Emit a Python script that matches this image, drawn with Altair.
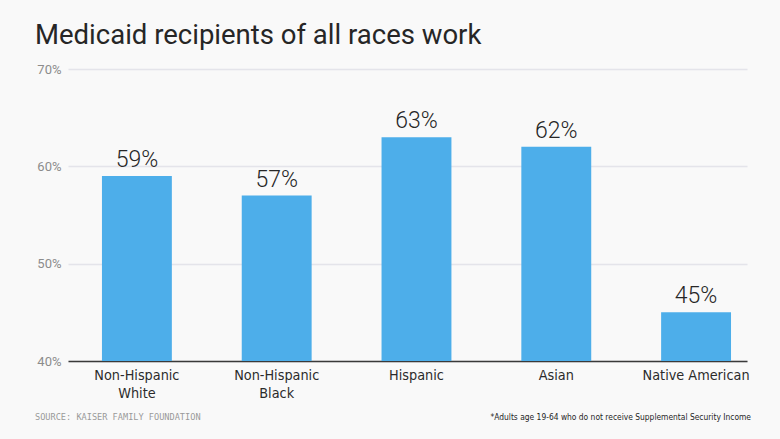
import altair as alt
import pandas as pd

categories = ["Non-Hispanic White", "Non-Hispanic Black", "Hispanic", "Asian", "Native American"]
values = [59, 57, 63, 62, 45]
value_labels = ["59%", "57%", "63%", "62%", "45%"]
y_ticks = [40, 50, 60, 70]

df = pd.DataFrame({"cat": categories, "val": values, "lab": value_labels})

W, H = 679, 292
LEFT, TOP = 68, 69
COND = "'DejaVu Sans Condensed', 'Liberation Sans Narrow', sans-serif"

x = alt.X(
    "cat:N",
    sort=categories,
    scale=alt.Scale(paddingInner=0.5, paddingOuter=0.1786, align=0.68),
    axis=alt.Axis(
        title=None,
        labelAngle=0,
        labelExpr="split(datum.label, ' ')[0] == 'Native' ? datum.label : split(datum.label, ' ')",
        labelFont=COND,
        labelFontSize=14.3,
        labelColor="#2b2b2b",
        labelPadding=7,
        labelLineHeight=18,
        ticks=False,
        domain=True,
        domainColor="#3a3a3a",
        domainWidth=1.5,
        grid=False,
    ),
)
y = alt.Y(
    "val:Q",
    scale=alt.Scale(domain=[40, 70], nice=False, zero=False),
    axis=alt.Axis(
        title=None,
        values=y_ticks,
        labelExpr="datum.value + '%'",
        labelFont="Roboto",
        labelFontSize=13,
        labelColor="#8c8c8c",
        labelPadding=7,
        ticks=False,
        domain=False,
        grid=True,
        gridColor="#e4e4ea",
        gridWidth=1.5,
    ),
)

bars = alt.Chart(df).mark_bar(color="#4daeea", clip=True).encode(x=x, y=y)
labels = alt.Chart(df).mark_text(
    baseline="alphabetic", dy=-9, font="Roboto", fontSize=23, fontWeight=300, color="#262626"
).encode(x=alt.X("cat:N", sort=categories), y="val:Q", text="lab:N")

title = alt.Chart(df.head(1)).mark_text(
    align="left", baseline="alphabetic", font="Roboto", fontSize=27.5, color="#262626"
).encode(x=alt.value(35 - LEFT), y=alt.value(44 - TOP), text=alt.value("Medicaid recipients of all races work"))

source = alt.Chart(df.head(1)).mark_text(
    align="left", baseline="middle", font="DejaVu Sans Mono", fontSize=8.6, color="#999999"
).encode(x=alt.value(35 - LEFT), y=alt.value(417 - TOP), text=alt.value("SOURCE: KAISER FAMILY FOUNDATION"))

note = alt.Chart(df.head(1)).mark_text(
    align="right", baseline="middle", font=COND, fontSize=8.4, color="#1f1f1f"
).encode(x=alt.value(751 - LEFT), y=alt.value(417 - TOP), text=alt.value("*Adults age 19-64 who do not receive Supplemental Security Income"))

chart = alt.layer(bars, labels, title, source, note).properties(
    width=W, height=H,
    autosize=alt.AutoSizeParams(type="none"),
    padding={"left": LEFT, "top": TOP, "right": 780 - LEFT - W, "bottom": 439 - TOP - H},
    background="#f9f9f9",
).configure_view(stroke=None)

chart.save("out.html", embed_options={"renderer": "svg", "actions": False})
